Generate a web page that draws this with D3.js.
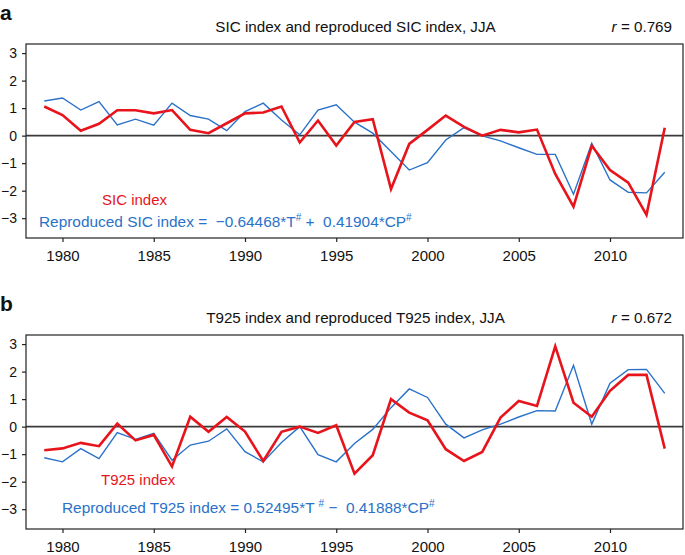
<!DOCTYPE html>
<html><head><meta charset="utf-8">
<script src="https://cdn.jsdelivr.net/npm/d3@7"></script>
<style>body{margin:0;background:#fff}svg{display:block}text{font-family:"Liberation Sans",Arial,sans-serif}</style>
</head><body>
<script>
const years = d3.range(1979, 2014);
const sicIndex = [1.06,0.75,0.18,0.43,0.92,0.92,0.81,0.93,0.21,0.09,0.45,0.81,0.84,1.06,-0.25,0.55,-0.36,0.50,0.60,-1.94,-0.30,0.21,0.73,0.32,0.0,0.21,0.12,0.22,-1.39,-2.58,-0.37,-1.25,-1.71,-2.88,0.29];
const sicRepro = [1.26,1.37,0.93,1.24,0.39,0.60,0.38,1.18,0.73,0.60,0.18,0.87,1.18,0.57,0.03,0.93,1.12,0.49,0.09,-0.58,-1.25,-0.98,-0.16,0.29,-0.01,-0.19,-0.44,-0.68,-0.68,-2.13,-0.28,-1.61,-2.06,-2.08,-1.33];
const t925Index = [-0.86,-0.79,-0.59,-0.71,0.11,-0.50,-0.30,-1.45,0.36,-0.19,0.35,-0.18,-1.25,-0.19,0.0,-0.23,0.05,-1.71,-1.04,1.0,0.51,0.23,-0.82,-1.25,-0.92,0.33,0.93,0.75,2.92,0.87,0.36,1.30,1.88,1.88,-0.80];
const t925Repro = [-1.13,-1.28,-0.80,-1.16,-0.22,-0.46,-0.24,-1.22,-0.67,-0.53,-0.08,-0.91,-1.28,-0.58,0.0,-1.02,-1.28,-0.61,-0.10,0.69,1.37,1.06,0.09,-0.41,-0.12,0.09,0.35,0.58,0.57,2.23,0.09,1.58,2.07,2.08,1.21];
const xTicks = [1980,1985,1990,1995,2000,2005,2010];
const yTicks = [-3,-2,-1,0,1,2,3];

const W = 685, H = 555;
const svg = d3.select("body").append("svg").attr("width", W).attr("height", H);
const RED = "#e8141c", BLUE = "#2a72c8";

const panels = [
  {letter:"a", top:44, title:"SIC index and reproduced SIC index, JJA", r:"0.769",
   idx:sicIndex, rep:sicRepro, redLabel:"SIC index",
   eq:[["Reproduced SIC index =  \u22120.64468*T",0],["#",1],[" +  0.41904*CP",0],["#",1]],
   redPos:[102,205], eqPos:[39,227]},
  {letter:"b", top:335, title:"T925 index and reproduced T925 index, JJA", r:"0.672",
   idx:t925Index, rep:t925Repro, redLabel:"T925 index",
   eq:[["Reproduced T925 index = 0.52495*T ",0],["#",1],[" \u2212  0.41888*CP",0],["#",1]],
   redPos:[101,485], eqPos:[62,513]}
];

const left = 26, right = 683, ph = 194;
const x = d3.scaleLinear().domain([1978, 2014]).range([left, right]);

panels.forEach(p => {
  const y = d3.scaleLinear().domain([-3.72, 3.33]).range([p.top + ph, p.top]);
  const g = svg.append("g");
  g.append("text").attr("x", (left+right)/2 + 1).attr("y", p.top - 12).attr("text-anchor","middle")
    .attr("font-size", 15.2).attr("fill","#111").text(p.title);
  const rt = g.append("text").attr("x", 672).attr("y", p.top - 12).attr("text-anchor","end")
    .attr("font-size", 15.2).attr("fill","#111");
  rt.append("tspan").attr("font-style","italic").text("r");
  rt.append("tspan").text(" = " + p.r);
  g.append("text").attr("x", 0).attr("y", p.top - 24).attr("font-size", 21).attr("font-weight","bold")
    .attr("fill","#111").text(p.letter);

  g.append("line").attr("x1", left).attr("x2", right).attr("y1", y(0)).attr("y2", y(0))
    .attr("stroke","#3a3a3a").attr("stroke-width",1.8);

  const line = d3.line().x((d,i)=>x(years[i])).y(d=>y(d));
  g.append("path").datum(p.rep).attr("d", line).attr("fill","none").attr("stroke",BLUE).attr("stroke-width",1.4);
  g.append("path").datum(p.idx).attr("d", line).attr("fill","none").attr("stroke",RED).attr("stroke-width",2.6);

  const xa = g.append("g").attr("transform",`translate(0,${p.top+ph})`)
    .call(d3.axisBottom(x).tickValues(xTicks).tickFormat(d3.format("d")).tickSizeOuter(0).tickSize(4).tickPadding(8));
  const ya = g.append("g").attr("transform",`translate(${left},0)`)
    .call(d3.axisLeft(y).tickValues(yTicks).tickFormat(d => d < 0 ? "\u2212" + Math.abs(d) : d).tickSizeOuter(0).tickSize(4).tickPadding(5));
  [xa, ya].forEach(a => {
    a.select(".domain").remove();
    a.selectAll("line").attr("stroke","#222").attr("stroke-width",1.2);
    a.selectAll("text").attr("fill","#111").attr("font-family","'Liberation Sans',Arial,sans-serif");
  });
  xa.selectAll("text").attr("font-size",15);
  ya.selectAll("text").attr("font-size",14);
  g.append("rect").attr("x", left).attr("y", p.top).attr("width", right-left).attr("height", ph)
    .attr("fill","none").attr("stroke","#222").attr("stroke-width",1.2);

  g.append("text").attr("x", p.redPos[0]).attr("y", p.redPos[1]).attr("font-size",15).attr("fill",RED).text(p.redLabel);
  const eq = g.append("text").attr("x", p.eqPos[0]).attr("y", p.eqPos[1]).attr("font-size",15.4).attr("fill",BLUE)
    .style("white-space","pre");
  p.eq.forEach(([t, sup], i) => {
    const prev = i>0 ? p.eq[i-1][1] : 0;
    const ts = eq.append("tspan").text(t).attr("dy", sup && !prev ? -6 : (!sup && prev ? 6 : 0));
    if (sup) ts.attr("font-size",10);
  });
});
</script>
</body></html>
